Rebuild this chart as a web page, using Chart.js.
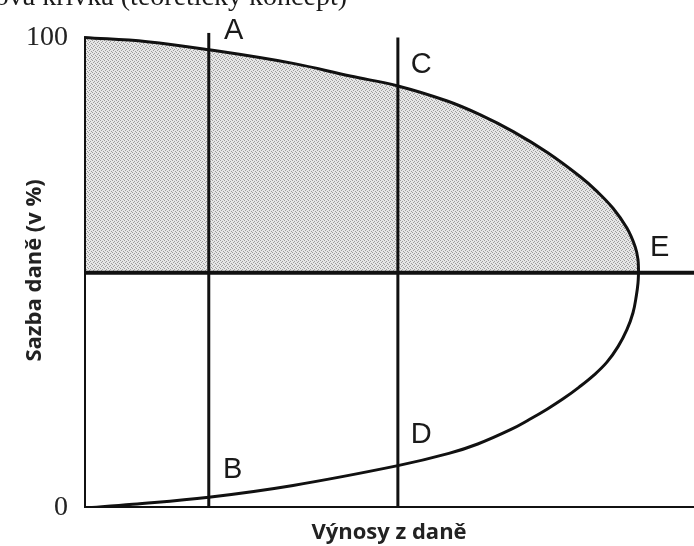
<!DOCTYPE html>
<html>
<head>
<meta charset="utf-8">
<script src="https://cdn.jsdelivr.net/npm/chart.js@4.4.1/dist/chart.umd.min.js"></script>
<style>
  body { margin: 0; background: #fff; }
</style>
</head>
<body>
<canvas id="laffer" width="694" height="546"></canvas>
<script>
// Lafferova křivka - x: výnosy z daně, y: sazba daně (v %)
var upperX = [0, 11.4, 22.5, 37.7, 48.0, 56.6, 65.5, 71.4, 77.4, 83.5, 89.5, 92.5, 95.4, 97.9, 99.4, 99.9, 100];
var upperY = [100, 99.1, 97.4, 94.5, 91.8, 89.7, 86.5, 83.6, 80.0, 75.6, 70.4, 67.3, 63.7, 59.5, 55.5, 52.8, 50];
var lowerX = [0, 8.8, 22.5, 37.7, 56.6, 65.8, 71.0, 77.0, 80.3, 83.5, 86.4, 89.3, 92.0, 94.3, 96.3, 97.9, 99.0, 99.6, 99.9, 100];
var lowerY = [0, 0.8, 2.3, 4.8, 9.0, 11.6, 13.6, 16.7, 18.8, 21.0, 23.2, 25.7, 28.3, 31.0, 34.3, 37.9, 41.5, 45.1, 47.8, 50];

var lineAB = 22.5;   // sazba v bodech A / B
var lineCD = 56.6;   // sazba v bodech C / D
var optimumRate = 50; // bod E
var yTicks = [0, 100];

var pointNames = ["A", "B", "C", "D", "E"];
var pointX = [27.0, 26.8, 60.8, 60.8, 103.8];
var pointY = [101.3, 8.0, 94.1, 15.5, 55.3];

var xMax = 110;
var yMax = 101;

function toPoints(xs, ys) {
  return xs.map(function (x, i) { return { x: x, y: ys[i] }; });
}

function stipple() {
  var c = document.createElement("canvas");
  c.width = 4;
  c.height = 4;
  var g = c.getContext("2d");
  g.fillStyle = "#e6e6e6";
  g.fillRect(0, 0, 4, 4);
  g.fillStyle = "#9c9c9c";
  [[0, 0], [2, 1], [1, 2], [3, 3]].forEach(function (p) { g.fillRect(p[0], p[1], 1, 1); });
  return g.createPattern(c, "repeat");
}

function straight(data, width) {
  return {
    data: data,
    showLine: true,
    borderColor: "#111",
    borderWidth: width,
    pointRadius: 0,
    fill: false,
    tension: 0,
  };
}

var labelPlugin = {
  id: "labels",
  afterDraw: function (chart) {
    var ctx = chart.ctx;
    var xs = chart.scales.x;
    var ys = chart.scales.y;
    ctx.save();
    ctx.fillStyle = "#1a1a1a";
    ctx.font = '29px "Liberation Sans"';
    ctx.textAlign = "center";
    ctx.textBaseline = "middle";
    pointNames.forEach(function (name, i) {
      ctx.fillText(name, xs.getPixelForValue(pointX[i]), ys.getPixelForValue(pointY[i]));
    });
    // oříznutý nadpis nad grafem
    ctx.font = '28px "Liberation Serif"';
    ctx.textAlign = "right";
    ctx.textBaseline = "alphabetic";
    ctx.fillText("Lafferova křivka (teoretický koncept)", 347, 5);
    ctx.restore();
  },
};

var ctx = document.getElementById("laffer").getContext("2d");
var myChart = new Chart(ctx, {
  type: "scatter",
  data: {
    datasets: [
      {
        data: toPoints(upperX, upperY),
        showLine: true,
        borderColor: "#111",
        borderWidth: 3,
        pointRadius: 0,
        tension: 0.4,
        fill: { value: optimumRate },
        backgroundColor: stipple(),
      },
      {
        data: toPoints(lowerX, lowerY),
        showLine: true,
        borderColor: "#111",
        borderWidth: 3,
        pointRadius: 0,
        tension: 0.4,
        fill: false,
      },
      straight([{ x: lineAB, y: 0 }, { x: lineAB, y: yMax }], 3),
      straight([{ x: lineCD, y: 0 }, { x: lineCD, y: 100 }], 3),
      straight([{ x: 0, y: optimumRate }, { x: xMax, y: optimumRate }], 4),
      straight([{ x: 0, y: 0 }, { x: 0, y: 100 }], 4),
      straight([{ x: 0, y: 0 }, { x: xMax, y: 0 }], 4),
    ],
  },
  options: {
    responsive: false,
    animation: false,
    layout: {
      padding: { top: 26, right: 0, bottom: 0, left: 0 },
    },
    plugins: {
      legend: { display: false },
      tooltip: { enabled: false },
      filler: { drawTime: "beforeDatasetsDraw" },
    },
    scales: {
      x: {
        type: "linear",
        min: 0,
        max: xMax,
        grid: { display: false },
        border: { display: false },
        ticks: { display: false },
        title: {
          display: true,
          text: "Výnosy z daně",
          color: "#222",
          font: { family: "Open Sans", weight: "bold", size: 22 },
          padding: { top: 0, bottom: 0 },
        },
        afterFit: function (scale) {
          scale.height = 38;
        },
      },
      y: {
        min: 0,
        max: yMax,
        grid: { display: false, drawTicks: false },
        border: { display: false },
        afterBuildTicks: function (scale) {
          scale.ticks = yTicks.map(function (v) { return { value: v }; });
        },
        ticks: {
          color: "#222",
          padding: 16,
          font: { family: "Liberation Serif", size: 28 },
        },
        title: {
          display: true,
          text: "Sazba daně (v %)",
          color: "#222",
          font: { family: "Open Sans", weight: "bold", size: 22 },
          padding: { top: 22, bottom: 0 },
        },
        afterFit: function (scale) {
          scale.width = 84;
        },
      },
    },
  },
  plugins: [labelPlugin],
});
</script>
</body>
</html>
